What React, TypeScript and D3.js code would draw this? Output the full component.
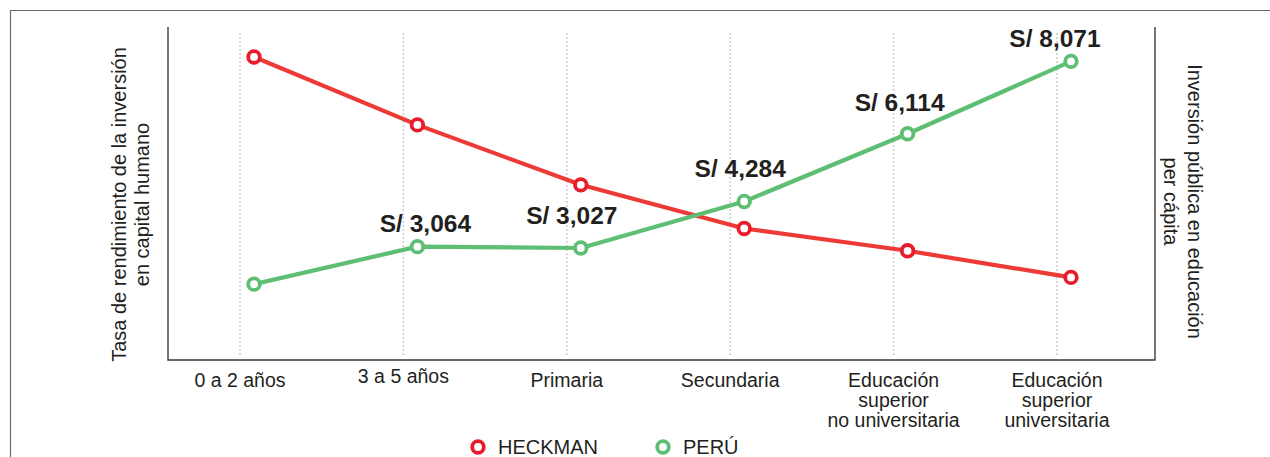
import * as d3 from 'd3';

const categories = [
  ['0 a 2 años'],
  ['3 a 5 años'],
  ['Primaria'],
  ['Secundaria'],
  ['Educación', 'superior', 'no universitaria'],
  ['Educación', 'superior', 'universitaria'],
];
const heckman = [91, 70.6, 52.6, 39.5, 32.8, 24.8];
const peru = [2050, 3064, 3027, 4284, 6114, 8071];
const peruLabels = ['', 'S/ 3,064', 'S/ 3,027', 'S/ 4,284', 'S/ 6,114', 'S/ 8,071'];
const seriesNames = ['HECKMAN', 'PERÚ'];

const W = 1270;
const H = 457;
const RED = '#ee3a36';
const RED_MARK = '#e71d2b';
const GREEN = '#5ebf74';
const TEXT = '#231f20';
const FONT = 'Arial, "Liberation Sans", Helvetica, sans-serif';

// label placement relative to each point (dx, dy)
const labelNudge = [[0, 0], [8, -15], [-9, -24], [-4, -24], [-8, -23], [-16, -14]];

export default function App() {
  const plot = { left: 168, right: 1155, top: 27, bottom: 360 };
  const x = d3.scalePoint<number>().domain(d3.range(categories.length)).range([240, 1057]);
  const pointShift = 14;
  const yLeft = d3.scaleLinear().domain([0, 100]).range([plot.bottom, plot.top]);
  const yRight = d3.scaleLinear().domain([0, 9000]).range([plot.bottom, plot.top]);

  const px = (i: number) => (x(i) as number) + pointShift;
  const redLine = d3.line<number>().x((_, i) => px(i)).y((d) => yLeft(d))(heckman) ?? '';
  const greenLine = d3.line<number>().x((_, i) => px(i)).y((d) => yRight(d))(peru) ?? '';

  return (
    <svg
      width={W}
      height={H}
      style={{ position: 'fixed', left: 0, top: 0, display: 'block', background: '#fff' }}
      fontFamily={FONT}
    >
      {/* outer frame */}
      <path d={`M10.5,${H + 10} V10.5 H${W + 10}`} fill="none" stroke="#6b6b6b" strokeWidth={1.2} />

      {/* grid */}
      {categories.map((_, i) => (
        <line
          key={`g${i}`}
          x1={x(i)}
          x2={x(i)}
          y1={33}
          y2={plot.bottom - 5}
          stroke="#cfcfcf"
          strokeWidth={1.6}
          strokeDasharray="2,2"
        />
      ))}

      {/* axes */}
      <path
        d={`M${plot.left},${plot.top} V${plot.bottom} H${plot.right} V${plot.top}`}
        fill="none"
        stroke="#3a3a3a"
        strokeWidth={1.4}
      />

      {/* lines */}
      <path d={redLine} fill="none" stroke={RED} strokeWidth={4.2} strokeLinejoin="round" />
      <path d={greenLine} fill="none" stroke={GREEN} strokeWidth={4.2} strokeLinejoin="round" />

      {heckman.map((d, i) => (
        <circle key={`r${i}`} cx={px(i)} cy={yLeft(d)} r={5.8} fill="#fff" stroke={RED_MARK} strokeWidth={3.8} />
      ))}
      {peru.map((d, i) => (
        <circle key={`p${i}`} cx={px(i)} cy={yRight(d)} r={5.8} fill="#fff" stroke={GREEN} strokeWidth={3.8} />
      ))}

      {/* value labels */}
      {peruLabels.map((t, i) =>
        t ? (
          <text
            key={`l${i}`}
            x={px(i) + labelNudge[i][0]}
            y={yRight(peru[i]) + labelNudge[i][1]}
            textAnchor="middle"
            fontSize={24.5}
            fontWeight={700}
            fill={TEXT}
          >
            {t}
          </text>
        ) : null
      )}

      {/* category labels */}
      {categories.map((lines, i) => (
        <text
          key={`c${i}`}
          x={x(i)}
          y={i === 1 ? 383 : 387}
          textAnchor="middle"
          fontSize={19.5}
          fill={TEXT}
        >
          {lines.map((ln, j) => (
            <tspan key={j} x={x(i)} dy={j === 0 ? 0 : 20}>
              {ln}
            </tspan>
          ))}
        </text>
      ))}

      {/* y titles */}
      <text transform="translate(126,204.5) rotate(-90)" textAnchor="middle" fontSize={20} fill={TEXT}>
        <tspan x={0} dy={0}>Tasa de rendimiento de la inversión</tspan>
        <tspan x={0} dy={23}>en capital humano</tspan>
      </text>
      <text transform="translate(1188,201.5) rotate(90)" textAnchor="middle" fontSize={20} fill={TEXT}>
        <tspan x={0} dy={0}>Inversión pública en educación</tspan>
        <tspan x={0} dy={24}>per cápita</tspan>
      </text>

      {/* legend */}
      {seriesNames.map((name, i) => {
        const lx = i === 0 ? 478 : 663;
        return (
          <g key={name}>
            <circle cx={lx} cy={447} r={5.8} fill="#fff" stroke={i === 0 ? RED_MARK : GREEN} strokeWidth={3.8} />
            <text x={lx + 20} y={454} fontSize={20} fill={TEXT}>
              {name}
            </text>
          </g>
        );
      })}
    </svg>
  );
}
